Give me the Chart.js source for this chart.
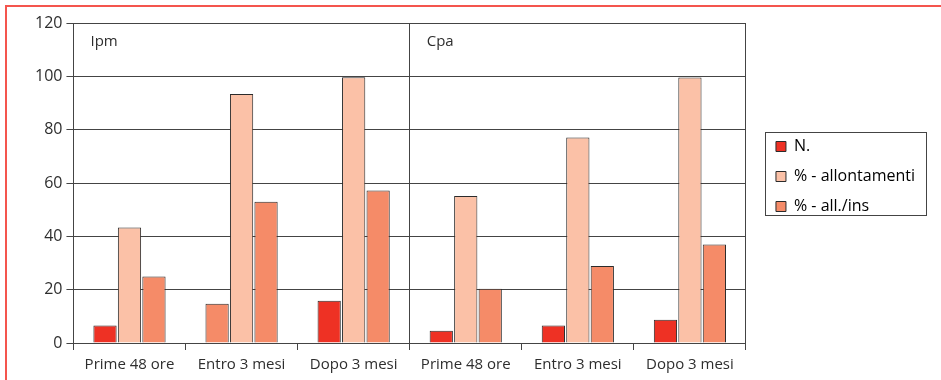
<!DOCTYPE html>
<html>
<head>
<meta charset="utf-8">
<script src="https://cdn.jsdelivr.net/npm/chart.js@4/dist/chart.umd.min.js"></script>
<style>
  html, body { margin: 0; padding: 0; background: #fff; }
  #wrap { position: relative; width: 941px; height: 380px; overflow: hidden; }
  #frame { position: absolute; left: 5px; top: 5px; right: -10px; bottom: -10px;
           border-top: 2px solid #f4554e; border-left: 2px solid #f4554e; pointer-events: none; }
  canvas { position: absolute; left: 0; top: 0; }
</style>
</head>
<body>
<div id="wrap">
  <canvas id="chart" width="941" height="380"></canvas>
  <div id="frame"></div>
</div>
<script>
// Two panels (Ipm, Cpa), three time windows each
const categories = ['Prime 48 ore', 'Entro 3 mesi', 'Dopo 3 mesi',
                    'Prime 48 ore', 'Entro 3 mesi', 'Dopo 3 mesi'];
const panelLabels = ['Ipm', 'Cpa'];
const seriesNames = ['N.', '% - allontamenti', '% - all./ins'];

const nValues = [6.6, 14.7, 15.8, 4.6, 6.6, 8.7];
const allontamentiValues = [43.3, 93.4, 99.7, 55.1, 77.1, 99.6];
const allInsValues = [24.9, 53.0, 57.2, 20.3, 28.9, 36.9];

const yTicks = [0, 20, 40, 60, 80, 100, 120];

const RED = '#ee3124';
const LIGHT = '#fbc1a7';
const SALMON = '#f58b68';
const INK = '#2e2e2e';
const LINE = '#444444';
const FONT = '"Open Sans", "Noto Sans", sans-serif';
const LEGEND_FONT = 16;
const LEGEND_PAD = 14;
const LEGEND_BOX = 10;

// fill of each N. bar (the Ipm "Entro 3 mesi" bar is drawn in salmon)
const nBarFill = [RED, SALMON, RED, RED, RED, RED];

// panel names written in the top-left corner of each half of the plot
const panelTitles = {
  id: 'panelTitles',
  afterDatasetsDraw(chart) {
    const x = chart.scales.x, y = chart.scales.y, ctx = chart.ctx;
    const half = (x.getPixelForValue(1) - x.getPixelForValue(0)) / 2;
    const starts = [x.getPixelForValue(0) - half, x.getPixelForValue(3) - half];
    const top = y.getPixelForValue(yTicks[yTicks.length - 1]);
    ctx.save();
    ctx.font = '15px ' + FONT;
    ctx.fillStyle = INK;
    ctx.textBaseline = 'middle';
    ctx.textAlign = 'left';
    panelLabels.forEach((t, i) => ctx.fillText(t, starts[i] + 17, top + 19));
    ctx.restore();
  }
};

// nudge the legend block and frame it with a thin box
const LEG_DX = 16, LEG_DY = -25;
const legendFrame = {
  id: 'legendFrame',
  afterLayout(chart) {
    const lg = chart.legend;
    lg.left += LEG_DX; lg.right += LEG_DX;
    lg.top += LEG_DY; lg.bottom += LEG_DY;
  },
  afterDraw(chart) {
    const lg = chart.legend, ctx = chart.ctx;
    const n = seriesNames.length;
    const itemH = LEGEND_FONT;
    const colH = n * (itemH + LEGEND_PAD);
    const y0 = ((lg.top + LEGEND_PAD) + (lg.bottom - colH)) / 2;
    const bx = lg.left + LEGEND_PAD;
    ctx.save();
    ctx.font = LEGEND_FONT + 'px ' + FONT;
    const textW = Math.max(...seriesNames.map(s => ctx.measureText(s).width));
    const left = bx - 11;
    const right = bx + LEGEND_BOX + LEGEND_FONT / 2 + textW + 11;
    const top = y0 + (itemH - LEGEND_BOX) / 2 - 10;
    const bottom = y0 + (n - 1) * (itemH + LEGEND_PAD) + (itemH + LEGEND_BOX) / 2 + 3;
    ctx.strokeStyle = LINE;
    ctx.lineWidth = 1;
    ctx.strokeRect(Math.round(left) + 0.5, Math.round(top) + 0.5, Math.round(right - left), Math.round(bottom - top));
    ctx.restore();
  }
};

new Chart(document.getElementById('chart'), {
  type: 'bar',
  data: {
    labels: categories,
    datasets: [
      { label: seriesNames[0], data: nValues,
        backgroundColor: c => (c.dataIndex === undefined ? RED : nBarFill[c.dataIndex]) },
      { label: seriesNames[1], data: allontamentiValues, backgroundColor: LIGHT },
      { label: seriesNames[2], data: allInsValues, backgroundColor: SALMON }
    ]
  },
  options: {
    responsive: false,
    animation: false,
    events: [],
    layout: { padding: { left: 31, top: 23, right: 32, bottom: 0 } },
    datasets: {
      bar: { borderColor: '#2b2b2b', borderWidth: 1, categoryPercentage: 0.655, barPercentage: 0.95 }
    },
    scales: {
      x: {
        grid: {
          offset: true,
          drawOnChartArea: true,
          tickLength: 7,
          color: c => (c.type === 'scale' || c.index === 3) ? LINE : 'rgba(0,0,0,0)',
          tickColor: LINE
        },
        border: { color: LINE, width: 1 },
        ticks: { color: INK, padding: 6, font: { family: FONT, size: 15 } }
      },
      y: {
        min: 0, max: 120,
        afterBuildTicks: s => { s.ticks = yTicks.map(v => ({ value: v })); },
        grid: { color: LINE, tickLength: 7, tickColor: LINE },
        border: { color: LINE, width: 1 },
        ticks: { color: INK, padding: 4, font: { family: FONT, size: 16 } }
      }
    },
    plugins: {
      tooltip: { enabled: false },
      legend: {
        position: 'right',
        labels: {
          boxWidth: LEGEND_BOX, boxHeight: LEGEND_BOX, padding: LEGEND_PAD,
          color: INK,
          font: { family: FONT, size: LEGEND_FONT },
          generateLabels: chart => seriesNames.map((name, i) => ({
            text: name,
            fillStyle: [RED, LIGHT, SALMON][i],
            strokeStyle: '#2b2b2b',
            lineWidth: 1,
            datasetIndex: i,
            hidden: false
          }))
        }
      }
    }
  },
  plugins: [panelTitles, legendFrame]
});
</script>
</body>
</html>
